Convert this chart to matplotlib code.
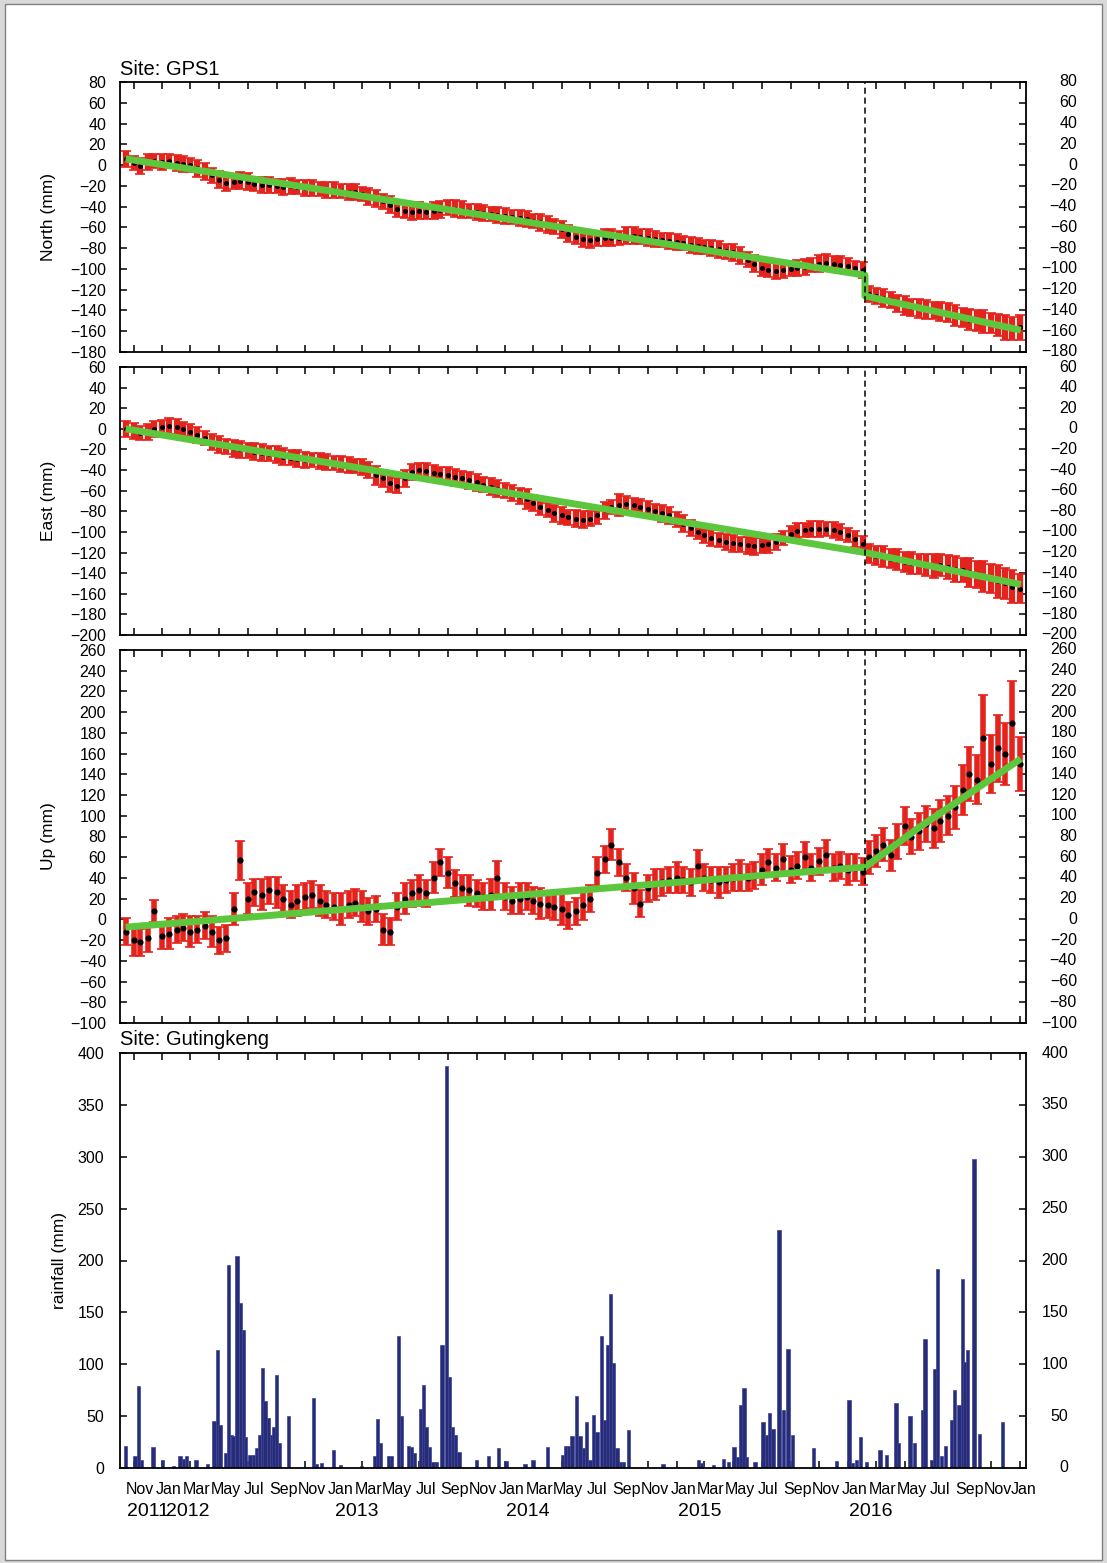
import numpy as np
import pandas as pd
import matplotlib
matplotlib.use("Agg")
import matplotlib.pyplot as plt
import matplotlib.dates as mdates
import matplotlib.transforms as mtransforms
from matplotlib.patches import Rectangle

plt.rcParams['font.family'] = ['Liberation Sans', 'DejaVu Sans']

# ---------------- data ----------------
# GPS1 daily solutions, sampled on the 1st and 15th of each month
gps_dates = pd.date_range("2011-10-15", "2017-01-01", freq="SMS")

north_mm = [6, 2, -1, 3, 4, 3, 4, 2, 1, 0,
            -3, -6, -10, -14, -17, -16, -15, -16, -18, -19,
            -19, -20, -21, -20, -21, -22, -22, -23, -24, -24,
            -25, -26, -26, -28, -30, -32, -35, -38, -42, -44,
            -45, -44, -45, -44, -43, -41, -42, -43, -44, -45,
            -46, -47, -48, -49, -50, -51, -52, -54, -55, -57,
            -59, -62, -66, -69, -71, -72, -71, -70, -70, -70,
            -68, -68, -69, -70, -71, -72, -73, -74, -75, -77,
            -78, -79, -80, -81, -83, -84, -87, -91, -95, -99,
            -101, -102, -101, -100, -99, -98, -96, -95, -94, -95,
            -96, -97, -99, -101, -124, -126, -128, -130, -133, -135,
            -137, -138, -139, -140, -141, -142, -145, -147, -149, -150,
            -151, -152, -154, -156, -157, -156]
north_err = [8, 7, 8, 8, 7, 8, 7, 8, 8, 7,
             8, 8, 7, 8, 8, 7, 8, 8, 7, 8,
             8, 7, 8, 8, 7, 8, 8, 7, 8, 8,
             7, 8, 8, 7, 8, 8, 7, 8, 8, 7,
             8, 8, 7, 8, 8, 7, 8, 8, 7, 8,
             8, 7, 8, 8, 7, 8, 8, 7, 8, 8,
             7, 8, 8, 7, 8, 8, 7, 8, 8, 7,
             8, 8, 7, 8, 8, 7, 8, 8, 7, 8,
             8, 7, 8, 8, 7, 8, 8, 7, 8, 8,
             7, 8, 8, 7, 8, 8, 7, 8, 8, 7,
             8, 8, 7, 8, 8, 8, 9, 8, 8, 9,
             8, 9, 9, 8, 9, 9, 10, 9, 10, 10,
             11, 10, 11, 12, 11, 12]

east_mm = [0, -2, -4, -3, 0, 2, 3, 2, 0, -3,
           -6, -9, -13, -15, -17, -19, -20, -21, -22, -23,
           -24, -25, -27, -28, -29, -30, -30, -31, -32, -33,
           -34, -35, -36, -37, -40, -45, -48, -53, -55, -48,
           -42, -40, -41, -43, -44, -45, -47, -48, -50, -52,
           -54, -56, -58, -60, -62, -65, -68, -72, -76, -79,
           -82, -84, -86, -87, -88, -87, -84, -79, -76, -74,
           -73, -74, -76, -78, -80, -82, -84, -88, -92, -96,
           -100, -103, -106, -108, -110, -111, -112, -113, -114, -113,
           -112, -110, -106, -102, -99, -98, -97, -97, -97, -98,
           -100, -103, -107, -112, -121, -123, -124, -126, -127, -129,
           -130, -131, -132, -133, -132, -134, -136, -137, -139, -141,
           -143, -145, -148, -150, -153, -155]
east_err = [8, 8, 7, 8, 8, 7, 8, 8, 7, 8,
            8, 7, 8, 8, 7, 8, 8, 7, 8, 8,
            7, 8, 8, 7, 8, 8, 7, 8, 8, 7,
            8, 8, 7, 8, 8, 9, 8, 8, 7, 8,
            8, 7, 8, 8, 7, 8, 8, 7, 8, 8,
            7, 8, 8, 7, 8, 8, 10, 8, 8, 7,
            8, 8, 7, 8, 8, 7, 8, 8, 7, 11,
            8, 7, 8, 8, 7, 8, 8, 7, 8, 8,
            7, 8, 8, 7, 8, 8, 7, 8, 8, 7,
            8, 8, 7, 8, 8, 7, 8, 8, 7, 8,
            8, 7, 8, 8, 9, 9, 10, 9, 10, 10,
            11, 10, 11, 12, 11, 12, 13, 12, 14, 13,
            15, 14, 16, 15, 16, 14]

up_mm = [-12, -20, -22, -18, 8, -16, -14, -10, -8, -12,
         -10, -6, -12, -20, -18, 10, 57, 20, 26, 24,
         28, 26, 20, 14, 18, 22, 24, 18, 14, 12,
         10, 14, 16, 12, 8, 10, -10, -12, 12, 20,
         25, 28, 25, 40, 55, 45, 35, 30, 28, 25,
         22, 24, 40, 22, 18, 20, 22, 18, 15, 14,
         12, 10, 4, 8, 14, 20, 45, 58, 72, 55,
         40, 30, 15, 30, 34, 36, 38, 40, 38, 36,
         52, 40, 38, 36, 38, 40, 42, 40, 42, 48,
         55, 50, 58, 48, 52, 60, 50, 56, 62, 50,
         52, 48, 50, 46, 60, 66, 72, 62, 75, 90,
         80, 85, 92, 88, 95, 100, 108, 125, 140, 135,
         175, 150, 165, 160, 190, 150]
up_err = [13, 15, 13, 13, 11, 13, 15, 13, 13, 15,
          13, 13, 15, 13, 13, 15, 19, 15, 13, 15,
          13, 15, 13, 13, 15, 13, 13, 15, 13, 13,
          15, 13, 13, 15, 13, 13, 15, 13, 13, 15,
          13, 15, 13, 15, 13, 15, 13, 13, 15, 13,
          13, 15, 16, 13, 13, 15, 13, 13, 15, 13,
          13, 15, 13, 13, 15, 13, 15, 13, 15, 13,
          13, 15, 13, 13, 15, 13, 13, 15, 13, 13,
          15, 13, 13, 15, 13, 13, 15, 13, 13, 15,
          13, 13, 15, 13, 13, 15, 13, 13, 15, 13,
          13, 15, 13, 13, 16, 15, 16, 15, 17, 18,
          17, 18, 17, 19, 20, 19, 21, 24, 26, 24,
          42, 28, 32, 30, 40, 26]

# Model fits (step / rate change at the 2016-02-06 Meinong earthquake)
quake_date = "2016-02-06"
north_fit_dates = ["2011-10-15", "2016-02-06", "2016-02-06", "2017-01-03"]
north_fit_mm = [6, -106, -126, -159]
east_fit_dates = ["2011-10-15", "2016-02-06", "2017-01-03"]
east_fit_mm = [0, -120, -151]
up_fit_dates = ["2011-10-15", "2016-02-06", "2016-06-01", "2017-01-03"]
up_fit_mm = [-7.5, 50.5, 89, 155]

# Gutingkeng rainfall (weekly totals, mm)
rain_dates = ["2011-10-14", "2011-11-04", "2011-11-11", "2011-11-18", "2011-12-12",
              "2012-01-02", "2012-01-25", "2012-02-08", "2012-02-15", "2012-02-22",
              "2012-03-13", "2012-04-06", "2012-04-20", "2012-04-27", "2012-05-03",
              "2012-05-14", "2012-05-21", "2012-05-27", "2012-05-31", "2012-06-08",
              "2012-06-15", "2012-06-22", "2012-06-27", "2012-07-06", "2012-07-13",
              "2012-07-20", "2012-07-26", "2012-08-02", "2012-08-07", "2012-08-14",
              "2012-08-21", "2012-08-26", "2012-09-01", "2012-09-07", "2012-09-26",
              "2012-11-18", "2012-11-25", "2012-12-06", "2012-12-31", "2013-01-14",
              "2013-03-01", "2013-03-29", "2013-04-04", "2013-04-10", "2013-04-27",
              "2013-05-04", "2013-05-18", "2013-05-24", "2013-06-08", "2013-06-15",
              "2013-06-22", "2013-07-04", "2013-07-10", "2013-07-16", "2013-07-24",
              "2013-07-31", "2013-08-07", "2013-08-19", "2013-08-28", "2013-09-04",
              "2013-09-10", "2013-09-16", "2013-09-24", "2013-11-01", "2013-11-26",
              "2013-12-17", "2014-01-02", "2014-02-12", "2014-03-01", "2014-03-31",
              "2014-05-03", "2014-05-09", "2014-05-16", "2014-05-23", "2014-06-02",
              "2014-06-09", "2014-06-16", "2014-06-23", "2014-06-30", "2014-07-08",
              "2014-07-15", "2014-07-24", "2014-08-01", "2014-08-07", "2014-08-13",
              "2014-08-20", "2014-08-27", "2014-09-03", "2014-09-10", "2014-09-20",
              "2014-12-03", "2015-02-16", "2015-02-23", "2015-03-21", "2015-04-10",
              "2015-04-21", "2015-05-03", "2015-05-11", "2015-05-18", "2015-05-24",
              "2015-05-30", "2015-06-17", "2015-07-04", "2015-07-11", "2015-07-18",
              "2015-07-25", "2015-08-07", "2015-08-16", "2015-08-26", "2015-09-05",
              "2015-10-19", "2015-12-07", "2016-01-03", "2016-01-10", "2016-01-19",
              "2016-01-28", "2016-02-09", "2016-03-09", "2016-03-23", "2016-04-12",
              "2016-04-18", "2016-05-12", "2016-05-21", "2016-06-07", "2016-06-13",
              "2016-06-27", "2016-07-04", "2016-07-10", "2016-07-18", "2016-07-27",
              "2016-08-08", "2016-08-15", "2016-08-24", "2016-08-31", "2016-09-06",
              "2016-09-12", "2016-09-25", "2016-10-07", "2016-11-25"]
rain_mm = [21, 12, 79, 8, 20,
           8, 2, 12, 9, 12,
           8, 4, 45, 114, 41,
           14, 196, 32, 31, 204,
           159, 133, 30, 13, 13,
           19, 32, 96, 65, 48,
           32, 40, 90, 24, 50,
           67, 4, 5, 17, 3,
           2, 12, 47, 24, 12,
           12, 127, 50, 21, 20,
           14, 57, 80, 40, 20,
           6, 6, 119, 387, 88,
           40, 32, 15, 8, 12,
           19, 7, 4, 8, 20,
           13, 21, 21, 31, 69,
           31, 19, 44, 8, 51,
           35, 127, 46, 119, 168,
           101, 19, 6, 6, 37,
           4, 8, 5, 3, 9,
           6, 20, 11, 61, 77,
           11, 6, 44, 32, 53,
           38, 229, 56, 115, 32,
           19, 7, 66, 5, 8,
           30, 6, 17, 13, 63,
           24, 50, 24, 56, 124,
           8, 95, 192, 12, 21,
           46, 75, 61, 182, 102,
           114, 298, 33, 44]

north_ticks = list(range(80, -181, -20))
east_ticks = list(range(60, -201, -20))
up_ticks = list(range(260, -101, -20))
rain_ticks = list(range(0, 401, 50))

# ---------------- styling ----------------
W, H = 1107, 1563
DPI = 100
RED = "#e5231d"
GREEN = "#5cc73c"
NAVY = "#282c74"
LEFT, RIGHT = 120, 1026

fig = plt.figure(figsize=(W / DPI, H / DPI), dpi=DPI, facecolor="#d9d9d9")
fig.patches.append(Rectangle((5 / W, 3 / H), 1097 / W, 1556 / H, transform=fig.transFigure,
                             facecolor="white", edgecolor="#808080", lw=1.0, zorder=-10))

xlim = (mdates.date2num(pd.Timestamp("2011-10-03")), mdates.date2num(pd.Timestamp("2017-01-14")))
gps_x = mdates.date2num(gps_dates)
quake_x = mdates.date2num(pd.Timestamp(quake_date))


def make_axes(top, bottom):
    ax = fig.add_axes([LEFT / W, 1 - bottom / H, (RIGHT - LEFT) / W, (bottom - top) / H])
    for s in ax.spines.values():
        s.set_linewidth(1.3)
    ax.set_xlim(xlim)
    ax.xaxis.set_major_locator(mdates.MonthLocator(bymonth=[1, 3, 5, 7, 9, 11]))
    ax.tick_params(axis="x", which="major", direction="in", top=True, bottom=True,
                   length=5, width=1.1, labelbottom=False)
    ax.tick_params(axis="y", which="major", direction="in", left=True, right=True,
                   length=5, width=1.1, labelsize=11.5)
    return ax


def right_labels(ax, ticks, px_from_spine, size=11.5):
    trans = mtransforms.blended_transform_factory(ax.transAxes, ax.transData)
    xa = 1 + px_from_spine / (RIGHT - LEFT)
    for v in ticks:
        ax.text(xa, v, f"{v}".replace("-", "\u2212"), transform=trans, ha="right",
                va="center", fontsize=size, clip_on=False)


def gps_panel(ax, vals, errs, fit_dates, fit_vals, ticks, ylabel, elw, ms):
    ax.errorbar(gps_x, vals, yerr=errs, fmt="o", ms=ms, mfc="black", mec="black",
                ecolor=RED, elinewidth=elw, capsize=3.5, capthick=1.2, zorder=2)
    ax.plot(mdates.date2num(pd.to_datetime(fit_dates)), fit_vals, color=GREEN, lw=5,
            solid_capstyle="butt", zorder=4)
    ax.axvline(quake_x, color="black", lw=1.1, ls=(0, (4, 2.5)), zorder=5)
    ax.set_ylim(min(ticks), max(ticks))
    ax.set_yticks(ticks)
    ax.tick_params(axis="y", pad=10)
    right_labels(ax, ticks, 51)
    ax.set_ylabel(ylabel, fontsize=12.5)
    ax.yaxis.set_label_coords(-0.071, 0.5)


ax1 = make_axes(82, 352)
gps_panel(ax1, north_mm, north_err, north_fit_dates, north_fit_mm, north_ticks,
          "North (mm)", 4.5, 2.6)
ax1.text(0, 1 + 7 / 270, "Site: GPS1", transform=ax1.transAxes, ha="left", va="baseline",
         fontsize=14.5)

ax2 = make_axes(367, 635)
gps_panel(ax2, east_mm, east_err, east_fit_dates, east_fit_mm, east_ticks,
          "East (mm)", 4.5, 2.6)

ax3 = make_axes(650, 1023)
gps_panel(ax3, up_mm, up_err, up_fit_dates, up_fit_mm, up_ticks, "Up (mm)", 4.0, 3.4)

ax4 = make_axes(1053, 1468)
ax4.bar(mdates.date2num(pd.to_datetime(rain_dates)), rain_mm, width=7, color=NAVY,
        edgecolor="#3b44a0", lw=0.5, align="center", zorder=2)
ax4.set_ylim(0, 400)
ax4.set_yticks(rain_ticks)
ax4.tick_params(axis="y", pad=11.5)
right_labels(ax4, rain_ticks, 42)
ax4.set_ylabel("rainfall (mm)", fontsize=12.5)
ax4.yaxis.set_label_coords(-0.058, 0.5)
ax4.text(0, 1 + 8 / 415, "Site: Gutingkeng", transform=ax4.transAxes, ha="left",
         va="baseline", fontsize=14.5)

# month names centred half a month after each tick, year under January
ax4.xaxis.set_minor_locator(mdates.MonthLocator(bymonth=[1, 3, 5, 7, 9, 11], bymonthday=15))
ax4.xaxis.set_minor_formatter(mdates.DateFormatter("%b"))
ax4.tick_params(axis="x", which="minor", length=0, labelbottom=True, labelsize=11.5, pad=10)
ax4.tick_params(axis="x", which="minor", top=False)

xtrans = mtransforms.blended_transform_factory(ax4.transData, ax4.transAxes)
# final January label sits just past the axis end
ax4.text(mdates.date2num(pd.Timestamp("2017-01-09")), -22 / 415, "Jan", transform=xtrans,
         ha="center", va="center", fontsize=11.5, clip_on=False)

year_pos = [("2011", "2011-12-02"), ("2012", "2012-02-24"), ("2013", "2013-02-18"),
            ("2014", "2014-02-18"), ("2015", "2015-02-19"), ("2016", "2016-02-18")]
for label, d in year_pos:
    ax4.text(mdates.date2num(pd.Timestamp(d)), -44 / 415, label, transform=xtrans,
             ha="center", va="center", fontsize=14)

fig.savefig("out.png", dpi=DPI, facecolor=fig.get_facecolor())
